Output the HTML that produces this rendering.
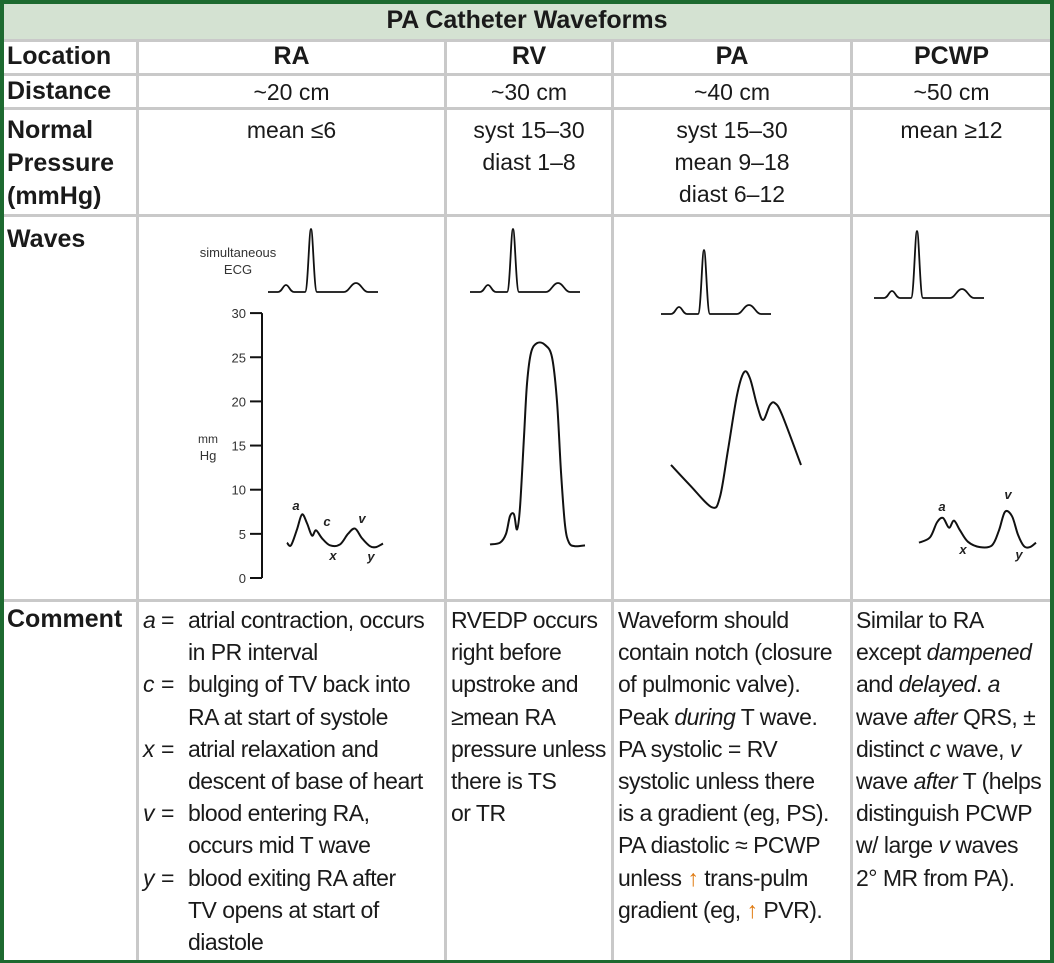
<!DOCTYPE html>
<html><head><meta charset="utf-8"><style>
body{margin:0;background:#fff}
#wrap{position:relative;width:1054px;height:963px;overflow:hidden;font-family:"Liberation Sans",sans-serif;color:#1a1a1a;background:#fff}
.abs{position:absolute}
.vl{position:absolute;background:#c9c9c9;width:3px}
.hl{position:absolute;background:#c9c9c9;height:3px}
.hd{position:absolute;font-weight:bold;font-size:25px;white-space:nowrap}
.c{position:absolute;font-size:23px;text-align:center;white-space:nowrap;line-height:32px}
.cm{position:absolute;font-size:23px;line-height:32.2px;white-space:nowrap;letter-spacing:-0.5px}
.ar{color:#e07a10}
</style></head><body>
<div id="wrap">
<div class="abs" style="left:0;top:0;width:1054px;height:963px;box-sizing:border-box;border:4px solid #1d6a30;border-bottom-width:3px"></div>
<div class="abs" style="left:4px;top:4px;width:1046px;height:35px;background:#d4e2d2"></div>
<div class="hd" style="left:0;width:1054px;top:6px;text-align:center;font-size:25px">PA Catheter Waveforms</div>
<div class="hl" style="left:4px;width:1046px;top:39px"></div>
<div class="hl" style="left:4px;width:1046px;top:73px"></div>
<div class="hl" style="left:4px;width:1046px;top:107px"></div>
<div class="hl" style="left:4px;width:1046px;top:214px"></div>
<div class="hl" style="left:4px;width:1046px;top:599px"></div>
<div class="vl" style="left:136px;top:39px;height:921px"></div>
<div class="vl" style="left:444px;top:39px;height:921px"></div>
<div class="vl" style="left:611px;top:39px;height:921px"></div>
<div class="vl" style="left:850px;top:39px;height:921px"></div>
<div class="hd" style="left:7px;top:42px">Location</div>
<div class="hd" style="left:7px;top:77px">Distance</div>
<div class="hd" style="left:7px;top:114px;line-height:33px">Normal<br>Pressure<br>(mmHg)</div>
<div class="hd" style="left:7px;top:225px">Waves</div>
<div class="hd" style="left:7px;top:605px">Comment</div>
<div class="hd" style="left:139px;width:305px;top:42px;text-align:center">RA</div>
<div class="hd" style="left:447px;width:164px;top:42px;text-align:center">RV</div>
<div class="hd" style="left:614px;width:236px;top:42px;text-align:center">PA</div>
<div class="hd" style="left:853px;width:197px;top:42px;text-align:center">PCWP</div>
<div class="c" style="left:139px;width:305px;top:76px">~20 cm</div>
<div class="c" style="left:447px;width:164px;top:76px">~30 cm</div>
<div class="c" style="left:614px;width:236px;top:76px">~40 cm</div>
<div class="c" style="left:853px;width:197px;top:76px">~50 cm</div>
<div class="c" style="left:139px;width:305px;top:114px">mean ≤6</div>
<div class="c" style="left:447px;width:164px;top:114px">syst 15–30<br>diast 1–8</div>
<div class="c" style="left:614px;width:236px;top:114px">syst 15–30<br>mean 9–18<br>diast 6–12</div>
<div class="c" style="left:853px;width:197px;top:114px">mean ≥12</div>
<div class="cm" style="left:143px;top:604px">
<div><i>a</i><span style="position:absolute;left:18px">=</span><span style="position:absolute;left:45px">atrial contraction, occurs</span></div>
<div style="padding-left:45px">in PR interval</div>
<div><i>c</i><span style="position:absolute;left:18px">=</span><span style="position:absolute;left:45px">bulging of TV back into</span></div>
<div style="padding-left:45px">RA at start of systole</div>
<div><i>x</i><span style="position:absolute;left:18px">=</span><span style="position:absolute;left:45px">atrial relaxation and</span></div>
<div style="padding-left:45px">descent of base of heart</div>
<div><i>v</i><span style="position:absolute;left:18px">=</span><span style="position:absolute;left:45px">blood entering RA,</span></div>
<div style="padding-left:45px">occurs mid T wave</div>
<div><i>y</i><span style="position:absolute;left:18px">=</span><span style="position:absolute;left:45px">blood exiting RA after</span></div>
<div style="padding-left:45px">TV opens at start of</div>
<div style="padding-left:45px">diastole</div>
</div>
<div class="cm" style="left:451px;top:604px">RVEDP occurs<br>right before<br>upstroke and<br>≥mean RA<br>pressure unless<br>there is TS<br>or TR</div>
<div class="cm" style="left:618px;top:604px">Waveform should<br>contain notch (closure<br>of pulmonic valve).<br>Peak <i>during</i> T wave.<br>PA systolic = RV<br>systolic unless there<br>is a gradient (eg, PS).<br>PA diastolic ≈ PCWP<br>unless <span class="ar">↑</span> trans-pulm<br>gradient (eg, <span class="ar">↑</span> PVR).</div>
<div class="cm" style="left:856px;top:604px">Similar to RA<br>except <i>dampened</i><br>and <i>delayed</i>. <i>a</i><br>wave <i>after</i> QRS, ±<br>distinct <i>c</i> wave, <i>v</i><br>wave <i>after</i> T (helps<br>distinguish PCWP<br>w/ large <i>v</i> waves<br>2° MR from PA).</div>
<svg id="chart" class="abs" style="left:0;top:0" width="1054" height="963"></svg>
</div>
<script>
const yTicks=[0,5,10,15,20,25,30];
const raTime=[287,291,297,302,307,312,316,322,330,340,348,355,362,370,376,383];
const raValues=[4,3.7,5.5,7.2,6.2,4.8,5.4,4.5,3.7,3.8,5,5.6,4.5,3.6,3.5,3.9];
const rvTime=[490,500,506,510,514,517,520,524,527,531,537,545,552,557,561,565,569,575,585];
const rvValues=[3.8,4,5,7,7.2,5.5,8,16,22,25.5,26.6,26.4,25,20,12,6,4,3.6,3.7];
const paTime=[671,690,712,720,728,737,744,750,757,763,770,775,782,801];
const paValues=[12.8,10.5,8,9.2,14.5,20.7,23.3,22.6,19.6,17.9,19.6,19.8,18.5,12.8];
const pcwpTime=[919,930,937,943,949,954,960,968,980,992,999,1005,1012,1018,1024,1030,1036];
const pcwpValues=[4,4.6,6.3,6.8,5.7,6.5,5.4,4.1,3.5,3.7,5.4,7.5,7,4.9,3.6,3.5,4];

const NS='http://www.w3.org/2000/svg';
const svg=document.getElementById('chart');
function yScale(v){return 578-v*8.83;}
function mk(tag,attrs){const e=document.createElementNS(NS,tag);for(const k in attrs)e.setAttribute(k,attrs[k]);svg.appendChild(e);return e;}
function smooth(xs,ys){let d='M'+xs[0]+','+ys[0];for(let i=0;i<xs.length-1;i++){const x0=xs[i-1]??xs[i],y0=ys[i-1]??ys[i],x1=xs[i],y1=ys[i],x2=xs[i+1],y2=ys[i+1],x3=xs[i+2]??x2,y3=ys[i+2]??y2;d+=' C'+(x1+(x2-x0)/6)+','+(y1+(y2-y0)/6)+' '+(x2-(x3-x1)/6)+','+(y2-(y3-y1)/6)+' '+x2+','+y2;}return d;}
let ax=mk('line',{x1:262,x2:262,y1:yScale(30),y2:yScale(0),stroke:'#111','stroke-width':2});


yTicks.forEach(t=>{
  const tk=mk('line',{x1:250,x2:262,y1:yScale(t),y2:yScale(t),stroke:'#111','stroke-width':2});
  
  
  const tl=mk('text',{x:246,y:yScale(t)+5,'text-anchor':'end','font-size':13,'font-family':'Liberation Sans, sans-serif',fill:'#333'});
  tl.textContent=t;
  
  
});
const u1=mk('text',{x:208,y:443,'text-anchor':'middle','font-size':12,'font-family':'Liberation Sans, sans-serif',fill:'#333'});u1.textContent='mm';


const u2=mk('text',{x:208,y:460,'text-anchor':'middle','font-size':13,'font-family':'Liberation Sans, sans-serif',fill:'#333'});u2.textContent='Hg';


const e1=mk('text',{x:238,y:257,'text-anchor':'middle','font-size':13,'font-family':'Liberation Sans, sans-serif',fill:'#333'});e1.textContent='simultaneous';


const e2=mk('text',{x:238,y:274,'text-anchor':'middle','font-size':13,'font-family':'Liberation Sans, sans-serif',fill:'#333'});e2.textContent='ECG';


function ecg(x0,base,peak,name){
  const d=`M${x0},${base} L${x0+10},${base} C${x0+14},${base} ${x0+15},${base-7} ${x0+18},${base-7} C${x0+21},${base-7} ${x0+22},${base} ${x0+26},${base} L${x0+37},${base} C${x0+40},${base} ${x0+41},${peak} ${x0+43},${peak} C${x0+45},${peak} ${x0+46},${base} ${x0+49},${base} L${x0+76},${base} C${x0+81},${base} ${x0+83},${base-9} ${x0+88},${base-9} C${x0+93},${base-9} ${x0+95},${base} ${x0+100},${base} L${x0+110},${base}`;
  const p=mk('path',{d:d,fill:'none',stroke:'#111','stroke-width':1.8});
  
  
}
ecg(268,292,229,'ra-ecg');
ecg(470,292,229,'rv-ecg');
ecg(661,314,250,'pa-ecg');
ecg(874,298,231,'pcwp-ecg');
function wave(xs,vs,name){
  const p=mk('path',{d:smooth(xs,vs.map(yScale)),fill:'none',stroke:'#111','stroke-width':2});
  
  
}
wave(raTime,raValues,'ra-waveform');
wave(rvTime,rvValues,'rv-waveform');
wave(paTime,paValues,'pa-waveform');
wave(pcwpTime,pcwpValues,'pcwp-waveform');
[['a',296,510,'ra'],['c',327,526,'ra'],['x',333,560,'ra'],['v',362,523,'ra'],['y',371,561,'ra'],['a',942,511,'pcwp'],['x',963,554,'pcwp'],['v',1008,499,'pcwp'],['y',1019,559,'pcwp']].forEach(l=>{
  const t=mk('text',{x:l[1],y:l[2],'text-anchor':'middle','font-size':13,'font-weight':'bold','font-style':'italic','font-family':'Liberation Sans, sans-serif',fill:'#222'});
  t.textContent=l[0];
  
  
});
</script>
</body></html>
